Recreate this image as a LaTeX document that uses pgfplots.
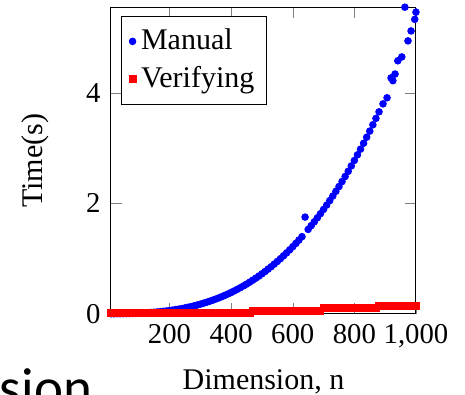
\documentclass[border=0pt]{standalone}
\usepackage{pgfplots}
\pgfplotsset{compat=1.18}
\usepackage{fontspec}
\setmainfont{Liberation Serif}
\newfontfamily\slidefont{Carlito}
\begin{document}
\fontsize{12}{14}\selectfont
\begin{tikzpicture}
\useasboundingbox (-44.4pt,-32.5pt) rectangle (141.6pt,125.5pt);
\clip (-44.4pt,-32.5pt) rectangle (141.6pt,125.5pt);
\node[anchor=base west, inner sep=0pt, font=\slidefont\fontsize{22}{24}\selectfont] at (-44.6pt,-37pt) {sion};
\begin{axis}[
  at={(0,0)}, anchor=south west,
  scale only axis, width=122pt, height=122.4pt,
  xmin=10, xmax=1000, ymin=0, ymax=5.54,
  xtick={200,400,600,800,1000},
  ytick={0,2,4},
  clip=false,
  /pgf/number format/assume math mode=true,
  tick label style={font=\fontsize{11.5}{13}\selectfont},
  label style={font=\fontsize{12}{14}\selectfont},
  xlabel={Dimension, n},
  ylabel={Time(s)},
  xlabel style={at={(axis description cs:0.5,-0.223)}, anchor=center},
  ylabel style={at={(axis description cs:-0.249,0.5)}, anchor=center},
  legend style={at={(0.033,0.974)}, anchor=north west, draw=black,
    font=\fontsize{12}{14}\selectfont, row sep=1pt, inner ysep=3pt},
  legend cell align=left,
]
\addplot[only marks, mark=*, mark size=1.3pt, color=blue] coordinates {
(10,0.000)(20,0.000)(30,0.001)(40,0.001)(50,0.002)(60,0.003)(70,0.004)(80,0.006)(90,0.007)(100,0.010)
(110,0.012)(120,0.015)(130,0.019)(140,0.023)(150,0.027)(160,0.032)(170,0.038)(180,0.044)(190,0.050)(200,0.058)
(210,0.066)(220,0.075)(230,0.084)(240,0.094)(250,0.105)(260,0.117)(270,0.130)(280,0.143)(290,0.158)(300,0.173)
(310,0.190)(320,0.207)(330,0.226)(340,0.245)(350,0.266)(360,0.287)(370,0.310)(380,0.334)(390,0.359)(400,0.385)
(410,0.413)(420,0.442)(430,0.472)(440,0.504)(450,0.536)(460,0.571)(470,0.607)(480,0.644)(490,0.682)(500,0.723)
(510,0.764)(520,0.808)(530,0.852)(540,0.899)(550,0.947)(560,0.997)(570,1.049)(580,1.102)(590,1.157)(600,1.214)
(610,1.273)(620,1.333)(630,1.396)(640,1.750)(650,1.527)(660,1.595)(670,1.665)(680,1.738)(690,1.812)(700,1.889)
(710,1.967)(720,2.048)(730,2.131)(740,2.216)(750,2.303)(760,2.393)(770,2.485)(780,2.579)(790,2.676)(800,2.775)
(810,2.877)(820,2.980)(830,3.087)(840,3.196)(850,3.307)(860,3.421)(870,3.537)(880,3.656)
(893,3.80)(906,3.91)(919,4.27)(925,4.22)(932,4.34)(941,4.58)(954,4.65)(964,5.55)(974,4.94)(984,5.12)(996,5.33)(1000,5.46)
};
\addlegendentry{Manual}
\addplot[only marks, mark=square*, mark size=1.4pt, color=red] coordinates {
(10,0.015)(20,0.015)(30,0.015)(40,0.015)(50,0.015)(60,0.015)(70,0.015)(80,0.015)(90,0.015)(100,0.015)
(110,0.015)(120,0.015)(130,0.015)(140,0.015)(150,0.015)(160,0.015)(170,0.015)(180,0.015)(190,0.015)(200,0.015)
(210,0.015)(220,0.015)(230,0.015)(240,0.015)(250,0.015)(260,0.015)(270,0.015)(280,0.015)(290,0.015)(300,0.015)
(310,0.015)(320,0.015)(330,0.015)(340,0.015)(350,0.015)(360,0.015)(370,0.015)(380,0.015)(390,0.015)(400,0.015)
(410,0.015)(420,0.015)(430,0.015)(440,0.015)(450,0.015)(460,0.015)
(470,0.055)(480,0.055)(490,0.055)(500,0.055)(510,0.055)(520,0.055)(530,0.055)(540,0.055)(550,0.055)(560,0.055)
(570,0.055)(580,0.055)(590,0.055)(600,0.055)(610,0.055)(620,0.055)(630,0.055)(640,0.055)(650,0.055)(660,0.055)
(670,0.055)(680,0.055)(690,0.055)
(700,0.095)(710,0.095)(720,0.095)(730,0.095)(740,0.095)(750,0.095)(760,0.095)(770,0.095)(780,0.095)(790,0.095)
(800,0.095)(810,0.095)(820,0.095)(830,0.095)(840,0.095)(850,0.095)(860,0.095)(870,0.095)
(880,0.135)(890,0.135)(900,0.135)(910,0.135)(920,0.135)(930,0.135)(940,0.135)(950,0.135)(960,0.135)(970,0.135)
(980,0.135)(990,0.135)(1000,0.135)
};
\addlegendentry{Verifying}
\end{axis}
\end{tikzpicture}
\end{document}
